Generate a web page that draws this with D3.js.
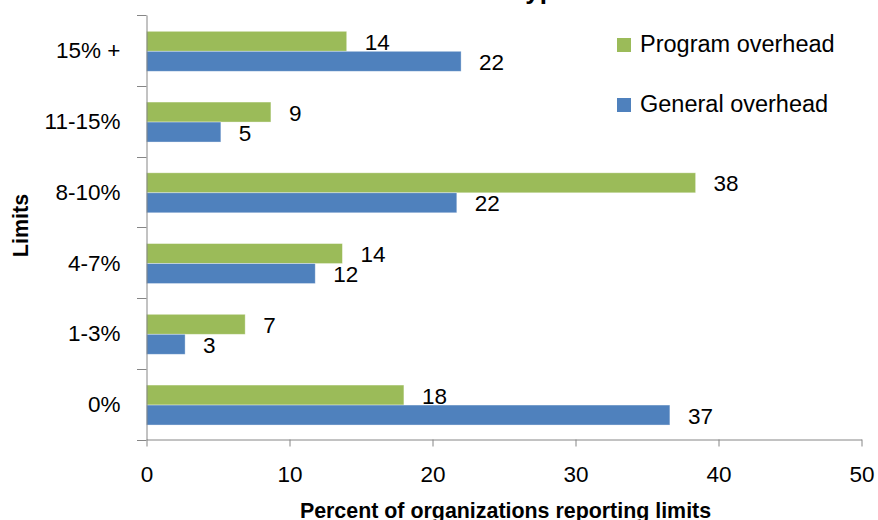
<!DOCTYPE html>
<html>
<head>
<meta charset="utf-8">
<script src="https://d3js.org/d3.v7.min.js"></script>
<style>
  body { margin: 0; background: #fff; }
  svg { font-family: "Liberation Sans", Arial, sans-serif; }
  .axis path, .axis line { stroke: #868686; }
  .axis text { font-size: 22.5px; fill: #000; }
  .label { font-size: 22.5px; fill: #000; }
  .legend text { font-size: 23.5px; fill: #000; }
  .title { font-weight: bold; }
</style>
</head>
<body>
<svg id="svg" width="878" height="520"></svg>
<script>
// data
const categories = ['0%', '1-3%', '4-7%', '8-10%', '11-15%', '15% +'];
const programOverhead = [18.0, 6.9, 13.7, 38.4, 8.7, 14.0];
const generalOverhead = [36.6, 2.7, 11.8, 21.7, 5.2, 22.0];
const programLabels = [18, 7, 14, 38, 9, 14];
const generalLabels = [37, 3, 12, 22, 5, 22];
const xTicks = [0, 10, 20, 30, 40, 50];
const seriesNames = ['Program overhead', 'General overhead'];
const seriesColors = ['#9BBB59', '#4F81BD'];

var svg = d3.select('svg');

var plotLeft = 146.5, plotRight = 861.5, plotTop = 15, plotBottom = 439.5;

var x = d3.scaleLinear()
  .domain([0, 50])
  .range([plotLeft, plotRight]);

var y0 = d3.scaleBand()
  .domain(categories.slice().reverse())
  .range([plotTop, plotBottom])
  .padding(0);

var y1 = d3.scaleBand()
  .domain(seriesNames)
  .range([0, y0.bandwidth()])
  .paddingInner(0)
  .paddingOuter(0.77)
  .align(0.53);

var rows = categories.map((c, i) => ({
  cat: c,
  values: [
    {name: seriesNames[0], value: programOverhead[i], label: programLabels[i], color: seriesColors[0]},
    {name: seriesNames[1], value: generalOverhead[i], label: generalLabels[i], color: seriesColors[1]}
  ]
}));

// bars
var groups = svg.append('g')
  .selectAll('g')
  .data(rows)
  .enter()
  .append('g')
  .attr('transform', (d) => `translate(0, ${y0(d.cat)})`);

groups.selectAll('rect')
  .data((d) => d.values)
  .enter()
  .append('rect')
  .attr('x', x(0))
  .attr('y', (d) => y1(d.name))
  .attr('width', (d) => x(d.value) - x(0))
  .attr('height', y1.bandwidth())
  .attr('fill', (d) => d.color)
  .attr('stroke', 'rgba(255,255,255,0.45)')
  .attr('stroke-width', 0.8);

groups.selectAll('text')
  .data((d) => d.values)
  .enter()
  .append('text')
  .attr('class', 'label')
  .attr('x', (d) => x(d.value) + 18)
  .attr('y', (d) => y1(d.name) + y1.bandwidth() / 2 + 8.5)
  .text((d) => d.label);

// x axis
var xAxis = svg.append('g')
  .attr('class', 'axis')
  .attr('transform', `translate(0, ${plotBottom})`)
  .call(d3.axisBottom(x).tickValues(xTicks).tickSize(7).tickSizeOuter(0).tickPadding(20));

// y axis (labels at band centres, ticks at band edges)
var yAxis = svg.append('g')
  .attr('class', 'axis')
  .attr('transform', `translate(${plotLeft}, 0)`)
  .call(d3.axisLeft(y0).tickSize(0).tickPadding(26));
yAxis.selectAll('.tick text').attr('dy', '0.36em');

var edges = y0.domain().map((c) => y0(c)).concat([plotBottom]);
yAxis.selectAll('.edge')
  .data(edges)
  .enter()
  .append('line')
  .attr('class', 'edge')
  .attr('x1', -9.5)
  .attr('x2', 0)
  .attr('y1', (d) => Math.round(d) + 0.5)
  .attr('y2', (d) => Math.round(d) + 0.5)
  .attr('stroke', '#868686');

// axis titles
svg.append('text')
  .attr('class', 'title')
  .attr('x', 505.5)
  .attr('y', 518)
  .attr('text-anchor', 'middle')
  .attr('font-size', '21.4px')
  .text('Percent of organizations reporting limits');

svg.append('text')
  .attr('class', 'title')
  .attr('transform', 'translate(28, 225.5) rotate(-90)')
  .attr('text-anchor', 'middle')
  .attr('font-size', '21.5px')
  .text('Limits');

// chart title, mostly cut off at the top
svg.append('text')
  .attr('class', 'title')
  .attr('x', 570)
  .attr('y', -1.5)
  .attr('text-anchor', 'end')
  .attr('font-size', '26px')
  .text('Limits on Overhead Type');

// legend
var legend = svg.append('g')
  .attr('class', 'legend')
  .selectAll('g')
  .data(seriesNames)
  .enter()
  .append('g')
  .attr('transform', (d, i) => `translate(617, ${38 + i * 60})`);

legend.append('rect')
  .attr('width', 14)
  .attr('height', 14)
  .attr('fill', (d, i) => seriesColors[i]);

legend.append('text')
  .attr('x', 23)
  .attr('y', 14)
  .text((d) => d);
</script>
</body>
</html>
